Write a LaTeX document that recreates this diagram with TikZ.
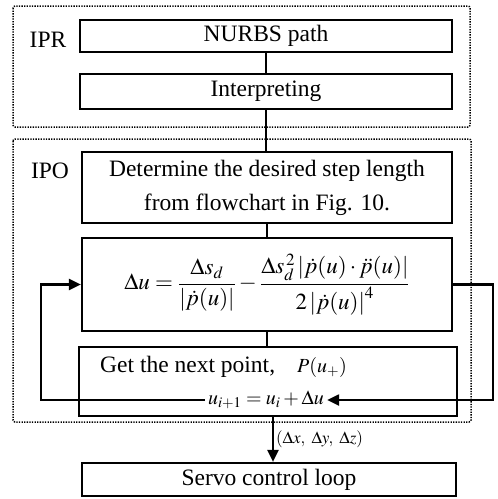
\documentclass[tikz,border=0pt]{standalone}
\usepackage{mathptmx}
\usepackage[no-math]{fontspec}
\setmainfont{Liberation Serif}
\usetikzlibrary{arrows.meta}
\tikzset{
  x=1pt,y=-1pt,
  blk/.style={draw,line width=2.2pt,inner sep=0pt,align=center,font=\fontsize{23.5}{27}\selectfont},
  grp/.style={draw,line width=1.5pt,dash pattern=on 1.3pt off 1.3pt,rounded corners=2pt},
  lbl/.style={font=\fontsize{23.5}{27}\selectfont,inner sep=0pt},
  con/.style={line width=2.2pt},
  arr/.style={line width=2.2pt,-{Triangle[length=12pt,width=11pt]}}
}
\begin{document}
\begin{tikzpicture}
\useasboundingbox (0,0) rectangle (498,499);
% groups
\draw[grp] (13,6) rectangle (470,127);
\draw[grp] (13,139) rectangle (471,422);
\node[lbl] (ipr) at (48,40) {IPR};
\node[lbl] (ipo) at (50,171) {IPO};
% blocks
\node[blk,minimum width=372pt,minimum height=32pt] (nurbs) at (266,36) {NURBS path};
\node[blk,minimum width=372pt,minimum height=35pt] (interp) at (266,91.5) {Interpreting};
\node[blk,minimum width=370pt,minimum height=71pt,font=\fontsize{23.5}{34}\selectfont] (det) at (267,187.5) {Determine the desired step length\\from flowchart in Fig. 10.};
\node[blk,minimum width=370pt,minimum height=93pt,font=\fontsize{23}{27}\selectfont] (form) at (267,284.5)
  {$\displaystyle \Delta u=\frac{\Delta s_d}{\left|\dot p(u)\right|}-\frac{\Delta s_d^{\,2}\,|\dot p(u)\cdot\ddot p(u)|}{2\left|\dot p(u)\right|^4}$};
\node[blk,minimum width=378pt,minimum height=69pt] (get) at (268,381.5) {};
\node[lbl,anchor=west] (gettxt) at (100,367) {Get the next point,\hspace{22pt}\fontsize{20}{24}\selectfont$P(u_{+})$};
\node[lbl,font=\fontsize{20}{24}\selectfont,inner sep=3pt] (upd) at (266,400) {$u_{i+1}=u_i+\Delta u$};
\node[blk,minimum width=374pt,minimum height=33pt] (servo) at (269,479.5) {Servo control loop};
% connectors
\draw[con] (nurbs.south) -- (nurbs.south |- interp.north);
\draw[con] (interp.south) -- (interp.south |- det.north);
\draw[con] (det.south) -- (det.south |- form.north);
\draw[con] (form.south) -- (form.south |- get.north);
\draw[arr] ([xshift=5pt]get.south) -- ([xshift=5pt]get.south |- servo.north)
  node[midway,right,inner sep=2pt,font=\fontsize{17}{20}\selectfont]{$(\Delta x,\ \Delta y,\ \Delta z)$};
\coordinate (cL) at (41,284.5);
\coordinate (cR) at (493,284.5);
\draw[arr] (upd.west) -| (cL) -- (form.west);
\draw[arr] (form.east) -- (cR) |- (upd.east);
\end{tikzpicture}
\end{document}
